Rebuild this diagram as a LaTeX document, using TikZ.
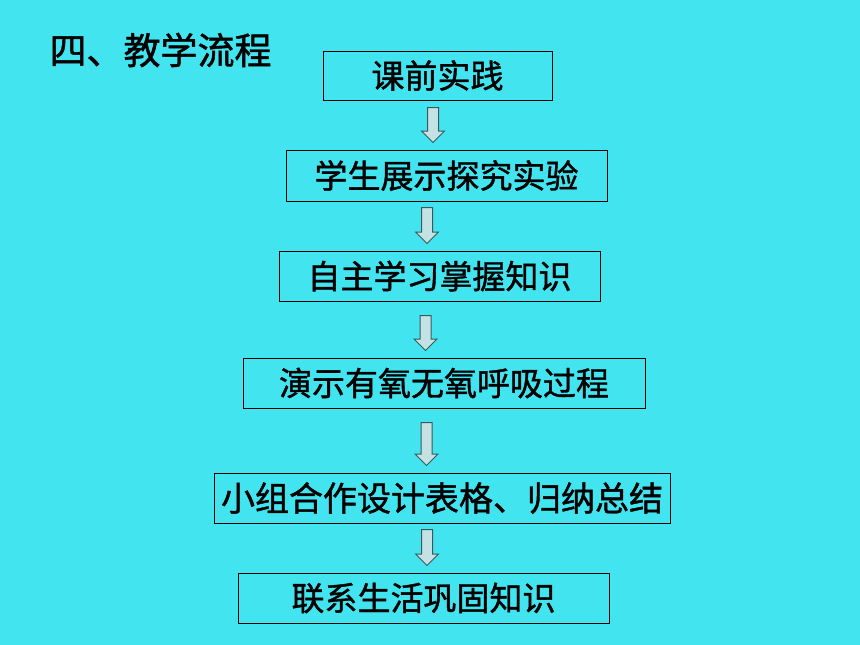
\documentclass[tikz,border=0pt]{standalone}
\usepackage{fontspec}
\setmainfont{Noto Sans CJK SC}[UprightFeatures={FakeBold=1.2}]
\usetikzlibrary{calc}
\definecolor{slidecyan}{RGB}{66,228,240}
\definecolor{arrowfill}{RGB}{196,226,228}
\definecolor{arrowline}{RGB}{60,90,92}

\begin{document}
\begin{tikzpicture}[x=1pt,y=-1pt]

        \fill[slidecyan] (0,0) rectangle (860,645);

        \node (title) at (160.5,50) {\fontsize{37}{44}\selectfont 四、教学流程};

        \begin{scope}[every node/.style={draw, line width=1pt, inner sep=0pt, minimum height=50pt, font=\fontsize{33}{40}\selectfont}]
          \node[minimum width=229pt, minimum height=49pt] (b1) at (437.5,75.5) {课前实践};
          \node[minimum width=321pt, minimum height=51pt] (b2) at (446.5,175.5) {学生展示探究实验};
          \node[minimum width=321pt] (b3) at (439.5,276) {自主学习掌握知识};
          \node[minimum width=402pt] (b4) at (444,383) {演示有氧无氧呼吸过程};
          \node[minimum width=456pt, font=\fontsize{34}{42}\selectfont] (b5) at (442,498) {小组合作设计表格、归纳总结};
          \node[minimum width=371pt] (b6) at (423.5,598) {联系生活巩固知识};
        \end{scope}

        \begin{scope}[every path/.style={draw=arrowline, fill=arrowfill, line width=1pt, line join=miter}]
          \foreach \from/\to/\ax/\gap in {b1/b2/433/7, b2/b3/427/6, b3/b4/425.5/14, b4/b5/426.5/14, b5/b6/427/6}
            \path let \p1=(\from.south), \p2=(\to.north) in
              ({\ax pt-5.5pt},{\y1-\gap pt}) -- ({\ax pt+5.5pt},{\y1-\gap pt})
              -- ({\ax pt+5.5pt},{\y2+18.5pt}) -- ({\ax pt+11.5pt},{\y2+18.5pt})
              -- ({\ax pt},{\y2+7pt}) -- ({\ax pt-11.5pt},{\y2+18.5pt})
              -- ({\ax pt-5.5pt},{\y2+18.5pt}) -- cycle;
        \end{scope}

      \end{tikzpicture}
\end{document}
